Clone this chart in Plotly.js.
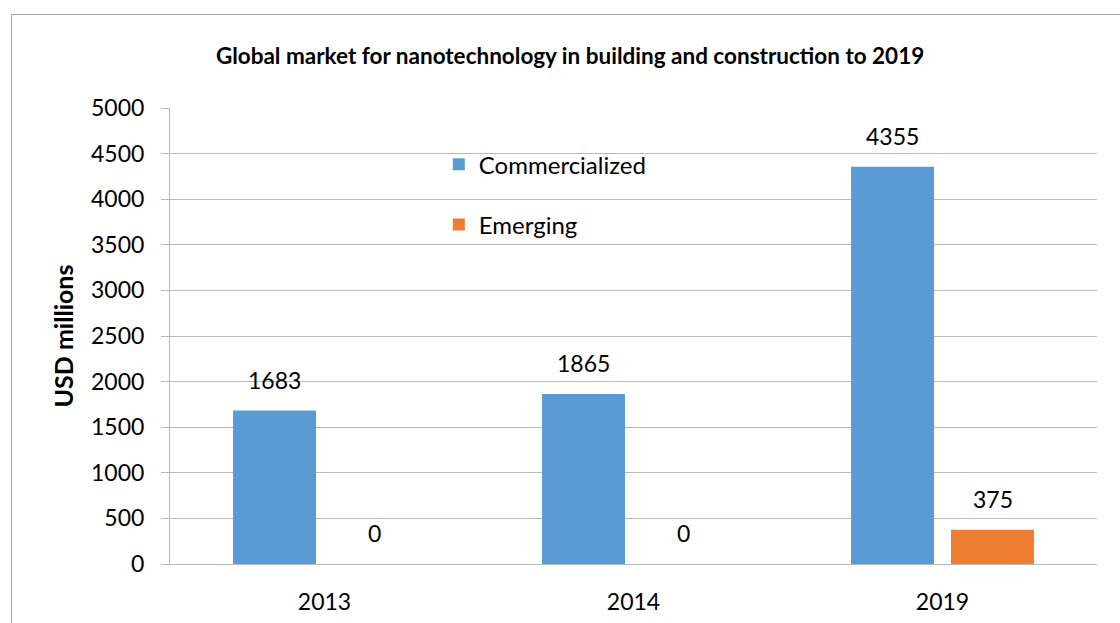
<!DOCTYPE html>
<html>
<head>
<meta charset="utf-8">
<script src="https://cdn.plot.ly/plotly-3.0.1.min.js"></script>
<style>
  html, body { margin: 0; padding: 0; background: #fff; }
  #wrap { position: relative; width: 1120px; height: 623px; overflow: hidden; }
  #chart { width: 1120px; height: 623px; }
  #frame { position: absolute; left: 11px; top: 14px; width: 1200px; height: 700px;
           border-left: 1px solid #a6a6a6; border-top: 1px solid #a6a6a6; pointer-events: none; }
</style>
</head>
<body>
<div id="wrap">
  <div id="chart"></div>
  <div id="frame"></div>
</div>
<script>
const categories = ['2013', '2014', '2019'];
const commercialized = [1683, 1865, 4355];
const emerging = [0, 0, 375];
const seriesNames = ['Commercialized', 'Emerging'];
const yTicks = [0, 500, 1000, 1500, 2000, 2500, 3000, 3500, 4000, 4500, 5000];

const FONT = 'Lato, "Open Sans", sans-serif';
const colors = ['#5B9BD5', '#ED7D31'];

const traces = [commercialized, emerging].map((vals, i) => ({
  type: 'bar',
  name: seriesNames[i],
  x: categories,
  y: vals,
  marker: { color: colors[i] },
  legendgroup: 'g' + i,
  hoverinfo: 'skip'
}));

// data labels above each bar, from the data arrays (category axis: index positions)
const annotations = [];
[commercialized, emerging].forEach((vals, i) => {
  vals.forEach((v, j) => {
    annotations.push({
      x: j, y: v, xref: 'x', yref: 'y',
      text: String(v), showarrow: false,
      xshift: i === 0 ? -50 : 50, yshift: 15, yanchor: 'bottom',
      font: { family: FONT, size: 23, color: '#000' }
    });
  });
});

const layout = {
  width: 1120, height: 623,
  margin: { l: 170, r: 23, t: 108, b: 59 },
  paper_bgcolor: '#fff', plot_bgcolor: '#fff',
  font: { family: FONT, color: '#000' },
  title: {
    text: '<b>Global market for nanotechnology in building and construction to 2019</b>',
    font: { family: FONT, size: 22.5, color: '#000' },
    x: 0.509, xanchor: 'center', y: 0.91, yanchor: 'middle'
  },
  barmode: 'group',
  bargap: 0.353,
  bargroupgap: 0.17,
  xaxis: {
    type: 'category',
    showgrid: false,
    showline: true, linecolor: '#b8b8b8', linewidth: 1,
    ticks: '',
    tickfont: { family: FONT, size: 23, color: '#000' },
    ticklabelstandoff: 17,
    fixedrange: true
  },
  yaxis: {
    range: [0, 5000],
    tickvals: yTicks,
    ticktext: yTicks.map(String),
    showgrid: true, gridcolor: '#b8b8b8', gridwidth: 1,
    showline: true, linecolor: '#b8b8b8', linewidth: 1,
    ticks: 'outside', ticklen: 8, tickcolor: '#b8b8b8',
    tickfont: { family: FONT, size: 23, color: '#000' },
    ticklabelstandoff: 12,
    zeroline: false,
    title: {
      text: '<b>USD millions</b>',
      font: { family: FONT, size: 25, color: '#000' },
      standoff: 10
    },
    fixedrange: true
  },
  legend: {
    x: 0.29, xanchor: 'left', y: 0.925, yanchor: 'top',
    bgcolor: 'rgba(0,0,0,0)',
    font: { family: FONT, size: 24, color: '#000' },
    traceorder: 'grouped', tracegroupgap: 26,
    itemwidth: 30
  },
  annotations: annotations,
  showlegend: true
};

Plotly.newPlot('chart', traces, layout, { displayModeBar: false, staticPlot: true });
</script>
</body>
</html>
